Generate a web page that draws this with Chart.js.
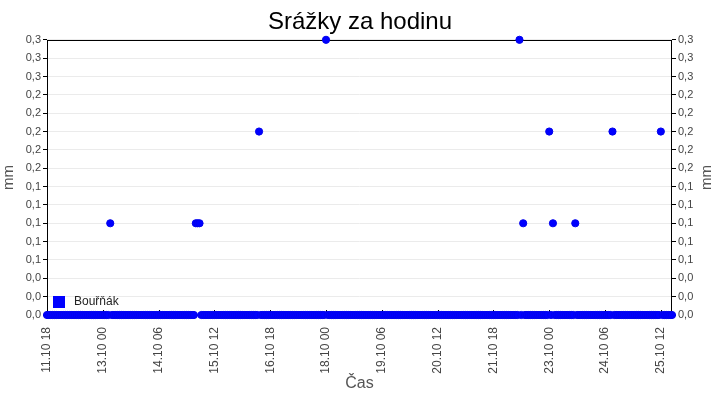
<!DOCTYPE html>
<html>
<head>
<meta charset="utf-8">
<script src="https://cdn.jsdelivr.net/npm/chart.js@4.4.1/dist/chart.umd.min.js"></script>
<style>
  html, body { margin: 0; padding: 0; background: #fff; }
  #wrap { width: 720px; height: 400px; }
</style>
</head>
<body>
<div id="wrap"><canvas id="rainChart"></canvas></div>
<script>
// first measurement: 11.10 18:00, one value per hour (mm)
const startTime = new Date(2024, 9, 11, 18, 0);
const seriesName = 'Bouřňák';

const day11 = [0, 0, 0, 0, 0, 0]; // 18-23
const day12 = [0, 0, 0, 0, 0, 0, 0, 0, 0, 0, 0, 0, 0, 0, 0, 0, 0, 0, 0, 0, 0, 0, 0, 0];
const day13 = [0, 0, 0, 0, 0.1, 0, 0, 0, 0, 0, 0, 0, 0, 0, 0, 0, 0, 0, 0, 0, 0, 0, 0, 0];
const day14 = [0, 0, 0, 0, 0, 0, 0, 0, 0, 0, 0, 0, 0, 0, 0, 0, 0, 0, 0, 0, 0, 0, 0, 0];
const day15 = [0, 0, 0.1, 0.1, 0.1, 0, 0, 0, 0, 0, 0, 0, 0, 0, 0, 0, 0, 0, 0, 0, 0, 0, 0, 0];
const day16 = [0, 0, 0, 0, 0, 0, 0, 0, 0, 0, 0, 0, 0.2, 0, 0, 0, 0, 0, 0, 0, 0, 0, 0, 0];
const day17 = [0, 0, 0, 0, 0, 0, 0, 0, 0, 0, 0, 0, 0, 0, 0, 0, 0, 0, 0, 0, 0, 0, 0, 0];
const day18 = [0.3, 0, 0, 0, 0, 0, 0, 0, 0, 0, 0, 0, 0, 0, 0, 0, 0, 0, 0, 0, 0, 0, 0, 0];
const day19 = [0, 0, 0, 0, 0, 0, 0, 0, 0, 0, 0, 0, 0, 0, 0, 0, 0, 0, 0, 0, 0, 0, 0, 0];
const day20 = [0, 0, 0, 0, 0, 0, 0, 0, 0, 0, 0, 0, 0, 0, 0, 0, 0, 0, 0, 0, 0, 0, 0, 0];
const day21 = [0, 0, 0, 0, 0, 0, 0, 0, 0, 0, 0, 0, 0, 0, 0, 0, 0, 0, 0, 0, 0, 0, 0, 0];
const day22 = [0, 0, 0, 0, 0, 0, 0, 0, 0.3, 0, 0.1, 0, 0, 0, 0, 0, 0, 0, 0, 0, 0, 0, 0, 0];
const day23 = [0.2, 0, 0.1, 0, 0, 0, 0, 0, 0, 0, 0, 0, 0, 0, 0.1, 0, 0, 0, 0, 0, 0, 0, 0, 0];
const day24 = [0, 0, 0, 0, 0, 0, 0, 0, 0, 0, 0.2, 0, 0, 0, 0, 0, 0, 0, 0, 0, 0, 0, 0, 0];
const day25 = [0, 0, 0, 0, 0, 0, 0, 0, 0, 0, 0, 0, 0.2, 0, 0, 0, 0, 0, 0]; // 00-18

const hourlyRain = [].concat(day11, day12, day13, day14, day15, day16, day17,
  day18, day19, day20, day21, day22, day23, day24, day25);

const yMax = 0.3;
const yStep = 0.02;
const xStepHours = 30;

const fontFamily = "'Liberation Sans', Arial, sans-serif";

function pad(n) { return n < 10 ? '0' + n : '' + n; }

function formatHour(h) {
    const d = new Date(startTime.getTime() + h * 3600 * 1000);
    return pad(d.getDate()) + '.' + pad(d.getMonth() + 1) + ' ' + pad(d.getHours());
}

function formatMm(v) {
    return v.toFixed(1).replace('.', ',');
}

// border around plot + small tick marks on the time axis, drawn under the points
const frame = {
    id: 'frame',
    beforeDatasetsDraw(chart) {
        const a = chart.chartArea;
        const ctx = chart.ctx;
        ctx.save();
        ctx.strokeStyle = '#000';
        ctx.lineWidth = 1;
        ctx.strokeRect(Math.round(a.left) + 0.5, Math.round(a.top) + 0.5,
            Math.round(a.right - a.left) - 1, Math.round(a.bottom - a.top));
        const xs = chart.scales.x;
        xs.ticks.forEach(t => {
            const px = Math.round(xs.getPixelForValue(t.value)) + 0.5;
            ctx.beginPath();
            ctx.moveTo(px, a.bottom);
            ctx.lineTo(px, a.bottom - 5);
            ctx.stroke();
        });
        ctx.restore();
    }
};

// legend inside the plot (bottom left) and the right axis title, read bottom-up like the left one
const extras = {
    id: 'extras',
    afterDraw(chart) {
        const a = chart.chartArea;
        const ctx = chart.ctx;
        ctx.save();
        ctx.fillStyle = '#0000ff';
        ctx.fillRect(a.left + 6, a.bottom - 19, 12, 12);
        ctx.fillStyle = '#222';
        ctx.font = '12px ' + fontFamily;
        ctx.textBaseline = 'middle';
        ctx.fillText(seriesName, a.left + 27, a.bottom - 13);

        ctx.translate(chart.width - 13, (a.top + a.bottom) / 2);
        ctx.rotate(-Math.PI / 2);
        ctx.textAlign = 'center';
        ctx.fillStyle = '#555';
        ctx.font = '15px ' + fontFamily;
        ctx.fillText('mm', 0, 0);
        ctx.restore();
    }
};

const yTicks = {
    stepSize: yStep,
    color: '#444',
    font: { family: fontFamily, size: 11 },
    padding: 2,
    callback: v => formatMm(v)
};

new Chart(document.getElementById('rainChart'), {
    type: 'scatter',
    data: {
        datasets: [{
            label: seriesName,
            data: hourlyRain.map((v, i) => ({ x: i, y: v })),
            backgroundColor: '#0000ff',
            borderColor: '#0000ee',
            borderWidth: 1,
            pointRadius: 3.6,
            pointHoverRadius: 3.6,
            showLine: false,
            clip: false
        }]
    },
    options: {
        responsive: true,
        maintainAspectRatio: false,
        animation: false,
        layout: { padding: 0 },
        plugins: {
            legend: { display: false },
            tooltip: { enabled: false },
            title: {
                display: true,
                text: 'Srážky za hodinu',
                color: '#000',
                font: { family: fontFamily, size: 24, weight: 'normal' },
                padding: { top: 8, bottom: 3 }
            }
        },
        scales: {
            x: {
                type: 'linear',
                min: 0,
                max: hourlyRain.length - 1,
                grid: { display: false },
                border: { display: false },
                ticks: {
                    stepSize: xStepHours,
                    includeBounds: false,
                    autoSkip: false,
                    minRotation: 90,
                    maxRotation: 90,
                    padding: 4,
                    color: '#444',
                    font: { family: fontFamily, size: 12 },
                    callback: v => formatHour(v)
                },
                title: {
                    display: true,
                    text: 'Čas',
                    color: '#555',
                    font: { family: fontFamily, size: 16 },
                    padding: { top: 0, bottom: 7 }
                },
                afterFit(scale) { scale.height = 85; }
            },
            y: {
                position: 'left',
                min: 0,
                max: yMax,
                grid: { color: '#ebebeb', tickColor: '#000', tickLength: 4 },
                border: { display: false },
                ticks: yTicks,
                title: {
                    display: true,
                    text: 'mm',
                    color: '#555',
                    font: { family: fontFamily, size: 15 },
                    padding: { top: 0, bottom: 5 }
                },
                afterFit(scale) { scale.width = 47; }
            },
            y2: {
                position: 'right',
                min: 0,
                max: yMax,
                grid: { drawOnChartArea: false, tickColor: '#000', tickLength: 4 },
                border: { display: false },
                ticks: yTicks,
                afterFit(scale) { scale.width = 48; }
            }
        }
    },
    plugins: [frame, extras]
});
</script>
</body>
</html>
